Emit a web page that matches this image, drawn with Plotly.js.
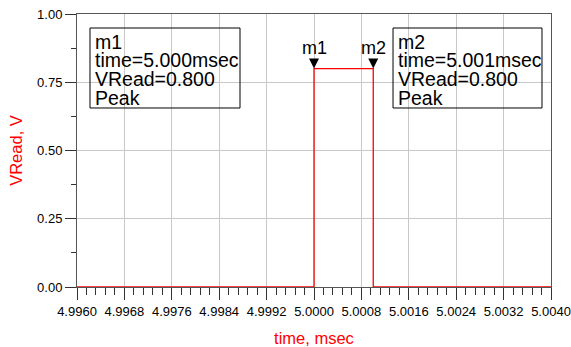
<!DOCTYPE html>
<html>
<head>
<meta charset="utf-8">
<script src="https://cdn.plot.ly/plotly-3.0.1.min.js"></script>
<style>html,body{margin:0;padding:0;background:#fff;}#chart{width:571px;height:347px;}</style>
</head>
<body>
<div id="chart"></div>
<script>
var timeMs = [4.9960, 5.0000, 5.0000, 5.0010, 5.0010, 5.0040];
var vRead  = [0.0, 0.0, 0.8, 0.8, 0.0, 0.0];
var markerNames = ["m1", "m2"];
var markerTime = [5.000, 5.001];
var markerV = [0.800, 0.800];
var markerTimeText = ["5.000", "5.001"];
var markerVText = ["0.800", "0.800"];
var xTickVals = [4.9960, 4.9968, 4.9976, 4.9984, 4.9992, 5.0000, 5.0008, 5.0016, 5.0024, 5.0032, 5.0040];
var yTickVals = [0, 0.25, 0.5, 0.75, 1.0];

var font = "Liberation Sans, Arial, sans-serif";

var traces = [{
  x: timeMs, y: vRead, type: "scatter", mode: "lines",
  line: {color: "#ff0000", width: 1.3}, hoverinfo: "skip", showlegend: false
}];

var shapes = [];
var annotations = [];
var boxX0 = [0.0274, 0.6667];
var boxX1 = [0.3439, 0.981];
var textX = [0.0338, 0.673];
var lineY = [0.8974, 0.8297, 0.7619, 0.6923];
for (var i = 0; i < markerNames.length; i++) {
  shapes.push({
    type: "path", xref: "x", yref: "y",
    xsizemode: "pixel", ysizemode: "pixel",
    xanchor: markerTime[i], yanchor: markerV[i],
    path: "M-5,10 L5,10 L0,0 Z",
    fillcolor: "#000", line: {color: "#000", width: 0}
  });
  shapes.push({
    type: "rect", xref: "paper", yref: "paper",
    x0: boxX0[i], x1: boxX1[i], y0: 0.6557, y1: 0.9487,
    fillcolor: "rgba(255,255,255,0)", line: {color: "#000", width: 1}
  });
  annotations.push({
    x: markerTime[i], y: markerV[i], xref: "x", yref: "y",
    text: markerNames[i], showarrow: false, yanchor: "bottom", yshift: 9,
    font: {family: font, size: 18, color: "#000"}
  });
  var lines = [markerNames[i], "time=" + markerTimeText[i] + "msec", "VRead=" + markerVText[i], "Peak"];
  for (var k = 0; k < lines.length; k++) {
    annotations.push({
      x: textX[i], y: lineY[k], xref: "paper", yref: "paper",
      xanchor: "left", yanchor: "middle", align: "left",
      text: lines[k], showarrow: false,
      font: {family: font, size: 19.5, color: "#000"}
    });
  }
}

var layout = {
  width: 571, height: 347,
  margin: {l: 77, r: 20, t: 14, b: 60},
  paper_bgcolor: "#fff", plot_bgcolor: "#fff",
  showlegend: false,
  font: {family: font, size: 13, color: "#000"},
  xaxis: {
    range: [4.9960, 5.0040], tickmode: "array", tickvals: xTickVals,
    ticktext: xTickVals.map(function(v){return v.toFixed(4);}),
    ticks: "outside", ticklen: 12, tickcolor: "#333", tickwidth: 1,
    showgrid: true, gridcolor: "#c8c8c8", gridwidth: 1,
    showline: true, linecolor: "#555", linewidth: 1, mirror: true,
    zeroline: false,
    minor: {dtick: 0.00016, ticks: "outside", ticklen: 7, tickcolor: "#333", showgrid: false},
    tickfont: {family: font, size: 13, color: "#000"},
    title: {text: "time, msec", font: {family: font, size: 16.5, color: "#ff0000"}, standoff: 20}
  },
  yaxis: {
    range: [0, 1.0], tickmode: "array", tickvals: yTickVals,
    ticktext: yTickVals.map(function(v){return v.toFixed(2);}),
    ticks: "outside", ticklen: 11, tickcolor: "#333", tickwidth: 1,
    showgrid: true, gridcolor: "#c8c8c8", gridwidth: 1,
    showline: true, linecolor: "#555", linewidth: 1, mirror: true,
    zeroline: false,
    minor: {dtick: 0.125, ticks: "outside", ticklen: 5, tickcolor: "#333", showgrid: false},
    tickfont: {family: font, size: 13, color: "#000"},
    title: {text: "VRead, V", font: {family: font, size: 16.5, color: "#ff0000"}, standoff: 10}
  },
  shapes: shapes,
  annotations: annotations
};

Plotly.newPlot("chart", traces, layout, {displayModeBar: false, staticPlot: true});
</script>
</body>
</html>
